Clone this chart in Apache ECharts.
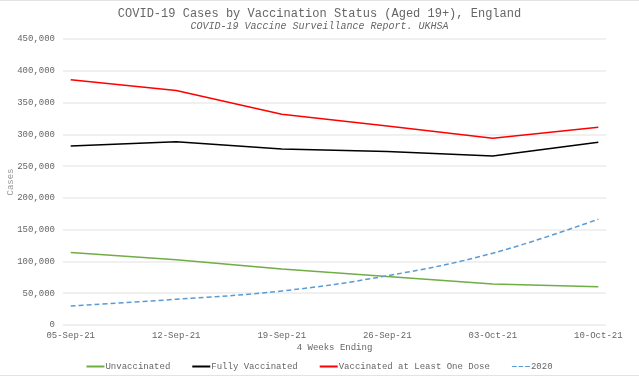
<!DOCTYPE html>
<html>
<head>
<meta charset="utf-8">
<script src="https://cdn.jsdelivr.net/npm/echarts@6/dist/echarts.min.js"></script>
<style>
    html, body { margin: 0; padding: 0; background: #fff; }
    #chart { width: 639px; height: 376px; box-sizing: border-box; border-top: 1px solid #e3e3e3; border-bottom: 1px solid #e3e3e3; }
</style>
</head>
<body>
<div id="chart"></div>
<script>
const weeks = ['05-Sep-21', '12-Sep-21', '19-Sep-21', '26-Sep-21', '03-Oct-21', '10-Oct-21']
const unvaccinated = [114000, 102500, 88000, 76500, 64500, 60000]
const fullyVaccinated = [281500, 288500, 277000, 273000, 266000, 287500]
const atLeastOneDose = [386000, 369000, 331500, 313000, 294000, 311000]
const cases2020 = [30000, 40500, 53500, 77500, 113000, 166500]

const font = 'Liberation Mono'

// x as a value axis so the points sit a little in from the grid edges
const toPts = arr => arr.map((v, i) => [i, v])

const chart = echarts.init(document.getElementById('chart'))

chart.setOption({
    animation: false,
    title: [
        {
            text: 'COVID-19 Cases by Vaccination Status (Aged 19+), England',
            left: 'center',
            top: 2,
            textStyle: { fontFamily: font, fontSize: 12, fontWeight: 'normal', color: '#666' }
        },
        {
            text: 'COVID-19 Vaccine Surveillance Report. UKHSA',
            left: 'center',
            top: 15,
            textStyle: { fontFamily: font, fontSize: 10, fontStyle: 'italic', fontWeight: 'normal', color: '#666' }
        }
    ],
    grid: { left: 63, right: 33, top: 38, bottom: 50, outerBoundsMode: 'none' },
    xAxis: {
        type: 'value',
        min: -0.073,
        max: 5.073,
        name: '4 Weeks Ending',
        nameLocation: 'middle',
        nameGap: 18,
        nameMoveOverlap: false,
        nameTextStyle: { fontFamily: font, fontSize: 9, color: '#666' },
        axisLine: { show: false },
        axisTick: { show: false },
        splitLine: { show: false },
        axisLabel: {
            customValues: [0, 1, 2, 3, 4, 5],
            formatter: v => weeks[Math.round(v)],
            fontFamily: font,
            fontSize: 9,
            color: '#666',
            margin: 6
        }
    },
    yAxis: {
        type: 'value',
        min: 0,
        max: 450000,
        interval: 50000,
        name: 'Cases',
        nameLocation: 'middle',
        nameGap: 48,
        nameMoveOverlap: false,
        nameTextStyle: { fontFamily: font, fontSize: 9, color: '#999' },
        axisLine: { show: false },
        axisTick: { show: false },
        splitLine: { lineStyle: { color: '#ebebeb', width: 1.5 } },
        axisLabel: {
            formatter: v => v.toLocaleString('en-US'),
            fontFamily: font,
            fontSize: 9,
            color: '#666',
            margin: 8
        }
    },
    legend: {
        bottom: -1,
        left: 'center',
        itemWidth: 18,
        itemHeight: 2,
        itemGap: 22,
        icon: 'rect',
        textStyle: { fontFamily: font, fontSize: 9, color: '#666', padding: [0, 0, 0, -4] },
        data: [
            { name: 'Unvaccinated' },
            { name: 'Fully Vaccinated' },
            { name: 'Vaccinated at Least One Dose' },
            { name: '2020', icon: 'path://M0,0 L5,0 L5,1 L0,1 Z M7,0 L12,0 L12,1 L7,1 Z M14,0 L19,0 L19,1 L14,1 Z' }
        ]
    },
    series: [
        {
            name: 'Unvaccinated',
            type: 'line',
            data: toPts(unvaccinated),
            showSymbol: false,
            color: '#70ad47',
            lineStyle: { width: 1.5 }
        },
        {
            name: 'Fully Vaccinated',
            type: 'line',
            data: toPts(fullyVaccinated),
            showSymbol: false,
            color: '#000000',
            lineStyle: { width: 1.5 }
        },
        {
            name: 'Vaccinated at Least One Dose',
            type: 'line',
            data: toPts(atLeastOneDose),
            showSymbol: false,
            color: '#ff0000',
            lineStyle: { width: 1.5 }
        },
        {
            name: '2020',
            type: 'line',
            data: toPts(cases2020),
            showSymbol: false,
            smooth: 0.4,
            color: '#5b9bd5',
            lineStyle: { width: 1.5, type: [5, 3] }
        }
    ]
})
</script>
</body>
</html>
